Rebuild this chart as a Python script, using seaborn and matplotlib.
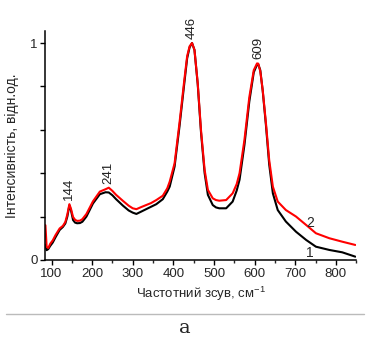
import matplotlib
matplotlib.use("Agg")
import matplotlib.pyplot as plt
from matplotlib.lines import Line2D
from matplotlib.ticker import MultipleLocator
import pandas as pd
import seaborn as sns

# Raman shift, cm^-1
shift = [85, 88, 92, 97, 103, 110, 120, 128, 134, 139, 144, 148, 153, 158, 163,
         170, 176, 186, 202, 219, 233, 241, 250, 259, 276, 290, 300, 309, 320,
         333, 345, 358, 374, 385, 391, 403, 415, 427, 434, 440, 446, 452, 460,
         468, 477, 485, 497, 505, 513, 530, 546, 556, 563, 575, 587, 598, 606,
         609, 614, 620, 628, 636, 645, 657, 677, 702, 727, 751, 784, 816, 848]

# curve 1 (black)
curve1 = [0.07, 0.045, 0.05, 0.065, 0.08, 0.105, 0.138, 0.152, 0.168, 0.2, 0.252,
          0.228, 0.184, 0.172, 0.169, 0.17, 0.176, 0.2, 0.26, 0.303, 0.312, 0.311,
          0.298, 0.28, 0.25, 0.228, 0.218, 0.212, 0.222, 0.234, 0.245, 0.257,
          0.28, 0.315, 0.338, 0.43, 0.614, 0.815, 0.93, 0.98, 1.0, 0.968, 0.81,
          0.59, 0.4, 0.3, 0.253, 0.242, 0.238, 0.238, 0.269, 0.32, 0.37, 0.53,
          0.73, 0.865, 0.9, 0.902, 0.875, 0.78, 0.62, 0.44, 0.307, 0.23, 0.177,
          0.13, 0.092, 0.061, 0.046, 0.035, 0.015]

# curve 2 (red)
curve2 = [0.16, 0.06, 0.055, 0.075, 0.09, 0.115, 0.145, 0.157, 0.175, 0.21, 0.257,
          0.235, 0.198, 0.185, 0.18, 0.181, 0.188, 0.212, 0.27, 0.315, 0.326, 0.333,
          0.318, 0.3, 0.272, 0.25, 0.238, 0.234, 0.243, 0.253, 0.262, 0.276,
          0.296, 0.33, 0.361, 0.445, 0.63, 0.83, 0.94, 0.985, 1.0, 0.968, 0.815,
          0.6, 0.415, 0.323, 0.284, 0.276, 0.273, 0.276, 0.307, 0.35, 0.4, 0.553,
          0.75, 0.875, 0.906, 0.905, 0.87, 0.783, 0.63, 0.46, 0.338, 0.269, 0.23,
          0.2, 0.161, 0.123, 0.1, 0.084, 0.069]

peak_pos = [144, 241, 446, 609]
peak_val = [0.262, 0.338, 1.005, 0.915]

sns.set_style("ticks")
plt.rcParams["font.family"] = ["Liberation Sans", "DejaVu Sans"]
plt.rcParams["mathtext.fontset"] = "custom"
plt.rcParams["mathtext.rm"] = "Liberation Sans"
plt.rcParams["mathtext.it"] = "Liberation Sans"

df = pd.DataFrame({"shift": shift, "c1": curve1, "c2": curve2})

fig = plt.figure(figsize=(3.66, 3.38), dpi=100)
ax = fig.add_axes([0.123, 0.231, 0.85, 0.677])

sns.lineplot(data=df, x="shift", y="c1", ax=ax, color="black", linewidth=1.5)
sns.lineplot(data=df, x="shift", y="c2", ax=ax, color="#ff0000", linewidth=1.5)

ax.set_xlim(84, 850)
ax.set_ylim(0, 1.055)
ax.set_xticks([100, 200, 300, 400, 500, 600, 700, 800])
ax.xaxis.set_minor_locator(MultipleLocator(50))
ax.set_yticks([0, 0.2, 0.4, 0.6, 0.8, 1.0])
ax.set_yticklabels(["0", "", "", "", "", "1"])
ax.tick_params(axis="both", which="major", direction="out", length=3.5,
               width=1, labelsize=9.5, color="black", pad=2)
ax.tick_params(axis="x", which="minor", direction="out", length=2.5, width=1)
for side in ["left", "bottom"]:
    ax.spines[side].set_linewidth(1.1)
    ax.spines[side].set_color("black")
sns.despine(ax=ax)

ax.set_xlabel("Частотний зсув, см$^{-1}$", fontsize=9.5, labelpad=4)
ax.set_ylabel("Інтенсивність, відн.од.", fontsize=10)
ax.yaxis.set_label_coords(-0.084, 0.5)

for p, v in zip(peak_pos, peak_val):
    ax.text(p, v + 0.012, str(p), rotation=90, ha="center", va="bottom",
            fontsize=9.5, color="#222222")

ax.text(737, 0.17, "2", fontsize=10, ha="center", va="center")
ax.text(737, 0.03, "1", fontsize=10, ha="center", va="center")

fig.add_artist(Line2D([0.016, 0.995], [0.071, 0.071], color="#bbbbbb", linewidth=1))
fig.text(0.505, 0.016, "a", fontsize=14, family="DejaVu Serif", ha="center", va="baseline")

fig.savefig("out.png", dpi=100)
